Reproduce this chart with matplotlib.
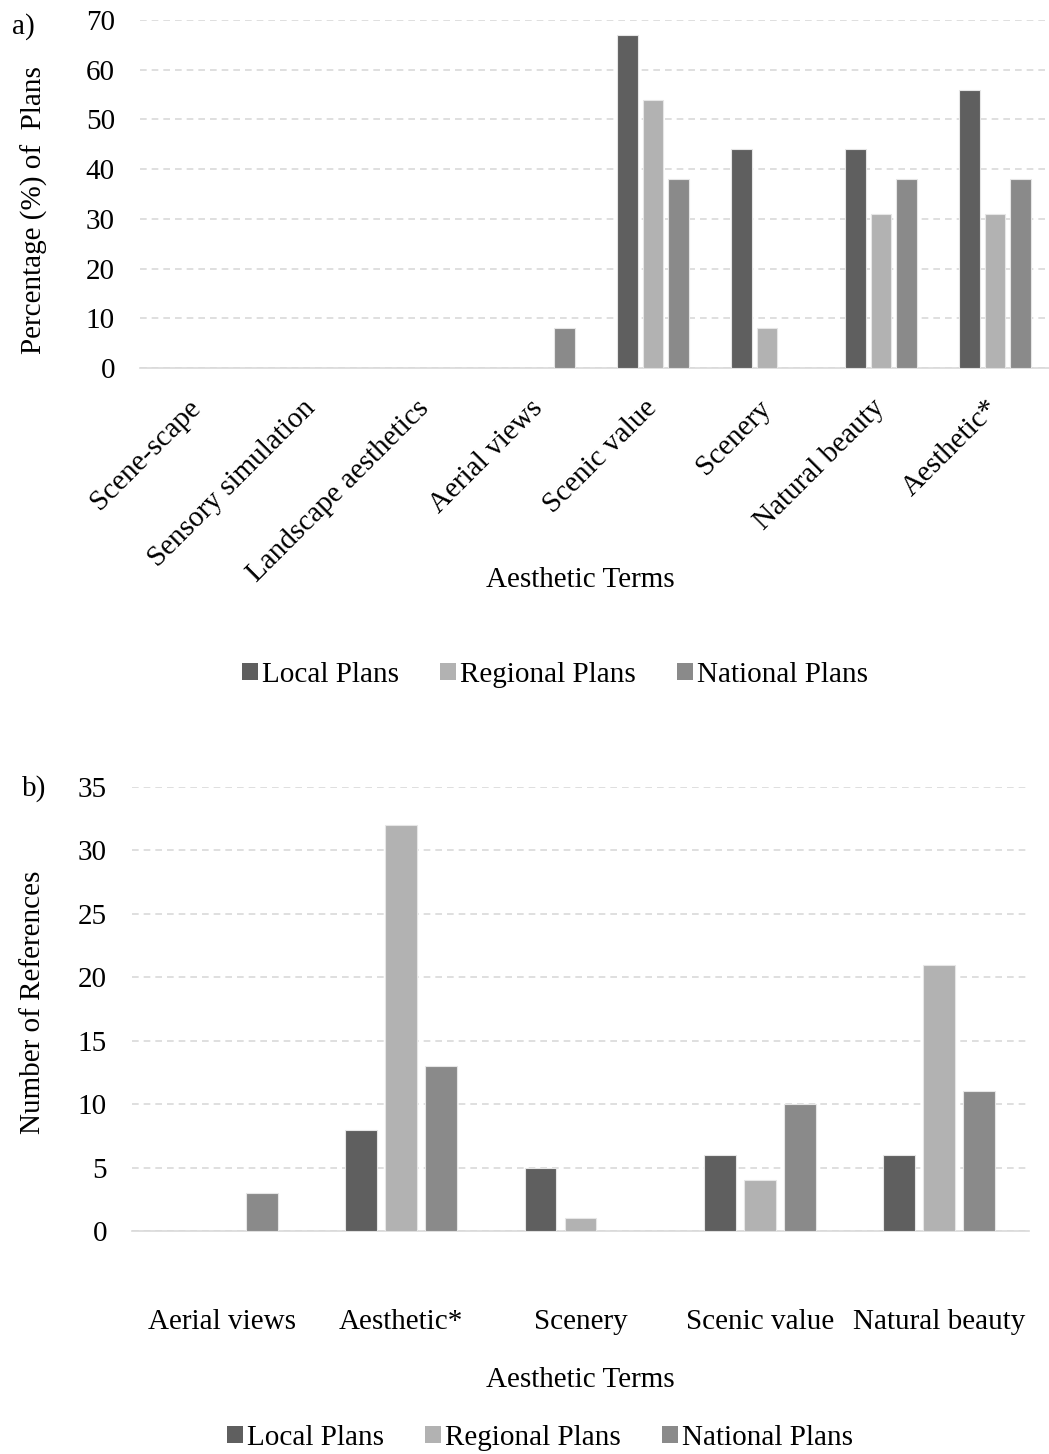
"""Aesthetic terms in local / regional / national plans: two grouped bar panels."""

import matplotlib

matplotlib.use("Agg")
import matplotlib.pyplot as plt
import numpy as np
from matplotlib.patches import Patch

plt.rcParams["font.family"] = ["Liberation Serif", "DejaVu Serif"]

SERIES = ["Local Plans", "Regional Plans", "National Plans"]
COLORS = ["#5f5f5f", "#b2b2b2", "#8a8a8a"]

# panel a: share of plans (%)
terms_a = ["Scene-scape", "Sensory simulation", "Landscape aesthetics", "Aerial views",
           "Scenic value", "Scenery", "Natural beauty", "Aesthetic*"]
local_a = [0, 0, 0, 0, 67, 44, 44, 56]
regional_a = [0, 0, 0, 0, 54, 8, 31, 31]
national_a = [0, 0, 0, 8, 38, 0, 38, 38]

# panel b: number of references
terms_b = ["Aerial views", "Aesthetic*", "Scenery", "Scenic value", "Natural beauty"]
local_b = [0, 8, 5, 6, 6]
regional_b = [0, 32, 1, 4, 21]
national_b = [3, 13, 0, 10, 11]

W, H = 1049, 1454
FS = 21
GRID = "#d9d9d9"


def grouped(ax, terms, series_vals, ymax, step):
    x = np.arange(len(terms))
    bw, off = 0.178, 0.223
    for i, (vals, c) in enumerate(zip(series_vals, COLORS)):
        ax.bar(x + (i - 1) * off, vals, bw, color=c, edgecolor="#e6e6e6", lw=0.8, zorder=3)
    ax.set_xlim(-0.5, len(terms) - 0.5)
    ax.set_ylim(0, ymax)
    ax.set_yticks(np.arange(0, ymax + 0.1, step))
    ax.yaxis.grid(True, color=GRID, ls=(0, (4, 3)), lw=1.2, zorder=0)
    ax.set_axisbelow(True)
    for s in ("top", "right", "left"):
        ax.spines[s].set_visible(False)
    ax.spines["bottom"].set_color(GRID)
    ax.spines["bottom"].set_linewidth(1.2)
    ax.tick_params(length=0, labelsize=FS)
    ax.tick_params(axis="y", pad=18)
    ax.set_xticks(x)
    return x


fig = plt.figure(figsize=(W / 100, H / 100), dpi=100)

# a) percentage of plans
ax_a = fig.add_axes([140 / W, 1 - 368 / H, 912 / W, 348 / H])
grouped(ax_a, terms_a, [local_a, regional_a, national_a], 70, 10)
ax_a.set_xticklabels(terms_a, rotation=45, ha="right", va="center", rotation_mode="anchor")
ax_a.tick_params(axis="x", pad=26)
fig.text(34 / W, 1 - 210 / H, "Percentage (%) of  Plans", fontsize=FS, rotation=90,
         ha="center", va="center")
fig.text(23 / W, 1 - 27 / H, "a)", fontsize=FS, ha="center", va="center")
fig.text(580 / W, 1 - 580 / H, "Aesthetic Terms", fontsize=FS, ha="center", va="center")

# b) number of references
ax_b = fig.add_axes([132 / W, 1 - 1231 / H, 897 / W, 444 / H])
grouped(ax_b, terms_b, [local_b, regional_b, national_b], 35, 5)
ax_b.set_xticklabels(terms_b)
ax_b.tick_params(axis="x", pad=56)
fig.text(33 / W, 1 - 1002 / H, "Number of References", fontsize=FS, rotation=90,
         ha="center", va="center")
fig.text(34 / W, 1 - 789 / H, "b)", fontsize=FS, ha="center", va="center")
fig.text(580 / W, 1 - 1380 / H, "Aesthetic Terms", fontsize=FS, ha="center", va="center")

handles = [Patch(facecolor=c, edgecolor="none") for c in COLORS]
for cx, cy in [(555, 675), (540, 1438)]:
    fig.legend(handles, SERIES, loc="center", bbox_to_anchor=(cx / W, 1 - cy / H),
               ncol=3, frameon=False, fontsize=FS, handlelength=0.55, handleheight=0.55,
               handletextpad=0.15, columnspacing=1.4)

fig.savefig("out.png", dpi=100)
